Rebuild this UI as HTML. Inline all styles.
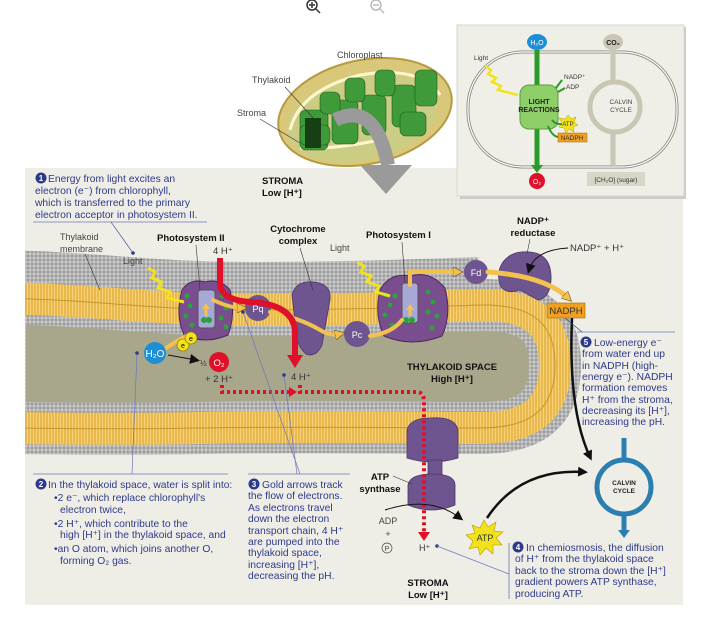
<!DOCTYPE html>
<html><head><meta charset="utf-8"><style>
html,body{margin:0;padding:0;background:#fff;}
svg{display:block;font-family:"Liberation Sans",sans-serif;}
.b{fill:#2d3a8c;font-size:10.3px;}
.k{fill:#222;font-size:9.5px;}
.kb{fill:#111;font-size:9.5px;font-weight:bold;}
.g{fill:#444;font-size:9px;}
</style></head><body>
<svg width="709" height="628" viewBox="0 0 709 628" xmlns="http://www.w3.org/2000/svg">
<defs>
<pattern id="dots" width="4" height="4" patternUnits="userSpaceOnUse">
<rect width="4" height="4" fill="#959595"/><circle cx="2" cy="2" r="1.7" fill="#c8c8c8"/></pattern>
<pattern id="tails" width="3" height="3" patternUnits="userSpaceOnUse">
<rect width="3" height="3" fill="#e8b84c"/><rect width="1" height="3" fill="#f6d27a"/></pattern>
<clipPath id="pc"><rect x="25" y="168" width="658" height="437"/></clipPath>
<marker id="ab" markerUnits="userSpaceOnUse" markerWidth="10" markerHeight="10" refX="6" refY="5" orient="auto"><path d="M0,0 L10,5 L0,10 Z" fill="#111"/></marker>
<marker id="ag" markerUnits="userSpaceOnUse" markerWidth="10" markerHeight="10" refX="5" refY="5" orient="auto"><path d="M0,0 L10,5 L0,10 Z" fill="#f3c24e" stroke="#6a5210" stroke-width=".6"/></marker>
</defs>
<!-- zoom icons -->
<g stroke="#333" fill="none" stroke-width="1.5"><circle cx="312" cy="5" r="5"/><line x1="316" y1="9" x2="320" y2="13"/><line x1="309" y1="5" x2="315" y2="5"/><line x1="312" y1="2" x2="312" y2="8"/></g>
<g stroke="#bbb" fill="none" stroke-width="1.5"><circle cx="376" cy="5" r="5"/><line x1="380" y1="9" x2="384" y2="13"/><line x1="373" y1="5" x2="379" y2="5"/></g>

<!-- panel -->
<rect x="25" y="168" width="658" height="437" fill="#efeee6"/>

<!-- chloroplast -->
<g>
<ellipse cx="365" cy="112" rx="88" ry="52" transform="rotate(-12 365 112)" fill="#d9c87a" stroke="#b69a40" stroke-width="2"/>
<ellipse cx="362" cy="118" rx="76" ry="42" transform="rotate(-12 362 118)" fill="#c6cf8a" opacity=".7"/>
<path d="M290,130 Q300,90 360,75 Q420,65 440,95" fill="none" stroke="#fff6cf" stroke-width="3"/>
<path d="M300,148 Q330,150 380,140" fill="none" stroke="#fff6cf" stroke-width="3"/>
<g fill="#3f9a3a" stroke="#1f5a1c" stroke-width=".6">
<rect x="300" y="110" width="28" height="40" rx="6"/><rect x="332" y="100" width="26" height="44" rx="6"/>
<rect x="362" y="95" width="24" height="40" rx="6"/><rect x="392" y="85" width="24" height="42" rx="6"/>
<rect x="415" y="70" width="22" height="36" rx="6"/><rect x="375" y="70" width="20" height="26" rx="6"/>
<rect x="345" y="78" width="20" height="24" rx="6"/><rect x="320" y="92" width="20" height="22" rx="6"/>
<rect x="300" y="125" width="30" height="20" rx="6"/><rect x="400" y="112" width="26" height="24" rx="6"/>
</g>
<rect x="305" y="118" width="16" height="30" fill="#173f15"/>
</g>
<path d="M335,120 Q375,100 388,165" fill="none" stroke="#9a9a9a" stroke-width="14"/>
<path d="M360,165 L412,165 L386,194 Z" fill="#9a9a9a"/>
<text x="337" y="58" class="g">Chloroplast</text>
<text x="252" y="83" class="g">Thylakoid</text>
<text x="237" y="116" class="g">Stroma</text>
<line x1="285" y1="87" x2="315" y2="120" stroke="#333" stroke-width=".6"/>
<line x1="260" y1="119" x2="300" y2="143" stroke="#333" stroke-width=".6"/>

<!-- inset -->
<rect x="460" y="27" width="226" height="172" fill="#ccc"/>
<rect x="457" y="25" width="227" height="171" fill="#f0efe7" stroke="#d8d6cc"/>
<rect x="468" y="52" width="209" height="115" rx="55" fill="none" stroke="#8a8a80" stroke-width="3"/>
<rect x="468" y="52" width="209" height="115" rx="55" fill="none" stroke="#fff" stroke-width="1.2"/>
<circle cx="615" cy="107" r="25" fill="none" stroke="#c9c6b3" stroke-width="5"/>
<line x1="613" y1="50" x2="613" y2="82" stroke="#c9c6b3" stroke-width="5"/>
<line x1="613" y1="132" x2="613" y2="165" stroke="#c9c6b3" stroke-width="5"/>
<line x1="537" y1="50" x2="537" y2="168" stroke="#2a9a2a" stroke-width="5"/>
<path d="M531,165 L543,165 L537,173 Z" fill="#2a9a2a"/>
<rect x="520" y="85" width="38" height="44" rx="9" fill="#8fcf6a" stroke="#5a9c40"/>
<text x="539" y="104" text-anchor="middle" font-size="7" font-weight="bold" fill="#222">LIGHT</text>
<text x="539" y="112" text-anchor="middle" font-size="7" font-weight="bold" fill="#222">REACTIONS</text>
<ellipse cx="537" cy="42" rx="10" ry="8" fill="#1c8fd6"/><text x="537" y="45" text-anchor="middle" font-size="7" fill="#fff">H₂O</text>
<ellipse cx="613" cy="42" rx="10" ry="8" fill="#c9c6b3"/><text x="613" y="45" text-anchor="middle" font-size="7" font-weight="bold" fill="#222">CO₂</text>
<circle cx="537" cy="181" r="8" fill="#e0102a"/><text x="537" y="184" text-anchor="middle" font-size="7" fill="#fff">O₂</text>
<rect x="587" y="172" width="58" height="14" fill="#d8d6c6"/><text x="616" y="182" text-anchor="middle" font-size="6.5" fill="#333">[CH₂O] (sugar)</text>
<text x="474" y="60" font-size="6.5" fill="#333">Light</text>
<polyline points="485,66 491,70 488,74 496,78 492,82 501,86 498,90 518,95" fill="none" stroke="#f2e21b" stroke-width="2.5"/>
<text x="564" y="79" font-size="6.5" fill="#333">NADP⁺</text>
<text x="566" y="89" font-size="6.5" fill="#333">ADP</text>
<text x="621" y="104" text-anchor="middle" font-size="6.5" fill="#444">CALVIN</text>
<text x="621" y="112" text-anchor="middle" font-size="6.5" fill="#444">CYCLE</text>
<polygon points="568,115 571,119 576,117 574,122 578,125 573,127 574,132 569,129 566,133 564,128 559,127 562,123 559,118 565,119" fill="#f2e21b" stroke="#b59a00" stroke-width=".5"/>
<text x="568" y="126" text-anchor="middle" font-size="6" fill="#333">ATP</text>
<rect x="558" y="133" width="29" height="9" fill="#f0a020" stroke="#a66a00" stroke-width=".5"/>
<text x="572" y="140" text-anchor="middle" font-size="6.5" fill="#333">NADPH</text>
<g stroke="#2a9a2a" stroke-width="2" fill="none"><path d="M562,80 L556,88"/><path d="M565,88 L558,92"/><path d="M552,120 Q556,125 562,124"/><path d="M548,126 Q552,136 558,137"/></g>

<!-- membrane -->
<g clip-path="url(#pc)">
<path d="M0,298 C100,300 150,310 250,310 C350,310 420,307 480,305" fill="none" stroke="url(#dots)" stroke-width="96"/>
<path d="M0,298 C100,300 150,310 250,310 C350,310 420,307 480,305 C540,304 555,330 555,365 C555,410 530,428 480,428 C400,428 300,426 200,428 C100,430 50,428 0,428 Z" fill="#a8a78c"/>
<path d="M0,298 C100,300 150,310 250,310 C350,310 420,307 480,305 C540,304 555,330 555,365 C555,410 530,428 480,428 C400,428 300,426 200,428 C100,430 50,428 0,428 Z" fill="none" stroke="url(#dots)" stroke-width="52"/>
<path d="M0,298 C100,300 150,310 250,310 C350,310 420,307 480,305 C540,304 555,330 555,365 C555,410 530,428 480,428 C400,428 300,426 200,428 C100,430 50,428 0,428 Z" fill="none" stroke="url(#tails)" stroke-width="32"/>
<path d="M0,298 C100,300 150,310 250,310 C350,310 420,307 480,305 C540,304 555,330 555,365 C555,410 530,428 480,428 C400,428 300,426 200,428 C100,430 50,428 0,428 Z" fill="none" stroke="#c9952e" stroke-width="1"/>
</g>

<!-- ATP synthase -->
<g fill="#6e5590" stroke="#4a3568" stroke-width=".8">
<path d="M407,430 Q410,418 430,418 Q455,416 458,430 L458,458 Q432,466 407,458 Z"/>
<rect x="428" y="460" width="14" height="18"/>
<path d="M408,485 Q410,474 432,474 Q455,474 455,485 L455,505 Q432,515 408,505 Z"/>
</g>
<!-- cytochrome -->
<path d="M292,295 Q296,280 314,282 Q332,284 330,300 L322,345 Q316,358 306,354 Q296,345 296,330 Z" fill="#6e5590" stroke="#4a3568" stroke-width=".8"/>
<!-- PS II -->
<g>
<path d="M182,290 Q190,278 205,282 Q220,278 230,290 Q236,315 228,335 Q205,345 184,335 Q175,315 182,290 Z" fill="#7a4d8f" stroke="#4a2a5e"/>
<rect x="198" y="290" width="17" height="38" rx="3" fill="#a8a8d8" stroke="#555"/>
<g fill="#2aa33a"><circle cx="187" cy="296" r="2.5"/><circle cx="190" cy="306" r="2.5"/><circle cx="186" cy="316" r="2.5"/><circle cx="192" cy="325" r="2.5"/><circle cx="222" cy="296" r="2.5"/><circle cx="226" cy="308" r="2.5"/><circle cx="221" cy="318" r="2.5"/><circle cx="226" cy="327" r="2.5"/><circle cx="204" cy="320" r="3"/><circle cx="209" cy="320" r="3"/></g>
<path d="M206,316 L206,308" stroke="#f3c24e" stroke-width="3"/><path d="M202,309 L210,309 L206,303 Z" fill="#f3c24e"/>
</g>
<!-- PS I -->
<g>
<path d="M380,290 Q390,272 410,276 Q430,270 445,288 Q452,315 442,336 Q412,348 384,336 Q374,315 380,290 Z" fill="#7a4d8f" stroke="#4a2a5e"/>
<rect x="402" y="283" width="16" height="40" rx="3" fill="#a8a8d8" stroke="#555"/>
<g fill="#2aa33a"><circle cx="386" cy="295" r="2.5"/><circle cx="390" cy="305" r="2.5"/><circle cx="385" cy="315" r="2.5"/><circle cx="392" cy="325" r="2.5"/><circle cx="395" cy="296" r="2.5"/><circle cx="428" cy="292" r="2.5"/><circle cx="433" cy="302" r="2.5"/><circle cx="428" cy="312" r="2.5"/><circle cx="437" cy="316" r="2.5"/><circle cx="432" cy="328" r="2.5"/><circle cx="406" cy="320" r="3"/><circle cx="412" cy="320" r="3"/></g>
<path d="M410,316 L410,309" stroke="#f3c24e" stroke-width="3"/><path d="M406,310 L414,310 L410,304 Z" fill="#f3c24e"/>
</g>
<!-- NADP reductase -->
<path d="M503,262 Q512,250 530,252 Q552,254 551,280 Q550,298 538,300 L520,290 Q505,295 500,285 Q496,272 503,262 Z" fill="#6e5590" stroke="#4a3568" stroke-width=".8"/>
<!-- carriers -->
<circle cx="258" cy="308" r="13" fill="#6e5590"/><text x="258" y="312" text-anchor="middle" font-size="9" fill="#fff">Pq</text>
<circle cx="357" cy="334" r="13" fill="#6e5590"/><text x="357" y="338" text-anchor="middle" font-size="9" fill="#fff">Pc</text>
<circle cx="476" cy="272" r="12" fill="#6e5590"/><text x="476" y="276" text-anchor="middle" font-size="9" fill="#fff">Fd</text>

<!-- gold electron arrows -->
<g fill="none" stroke-linecap="round">
<path d="M163,350 Q178,340 190,334" stroke="#f3c24e" stroke-width="4"/>
<path d="M213,300 Q230,308 242,308" stroke="#f3c24e" stroke-width="4" marker-end="url(#ag)"/>
<path d="M270,312 Q300,318 320,330 Q330,336 340,334" stroke="#f3c24e" stroke-width="4" marker-end="url(#ag)"/>
<path d="M370,336 Q392,333 402,320" stroke="#f3c24e" stroke-width="4"/>
<path d="M410,285 L410,272 L458,272" stroke="#f3c24e" stroke-width="4" marker-end="url(#ag)"/>
<path d="M488,272 Q545,276 568,298" stroke="#f3c24e" stroke-width="5" marker-end="url(#ag)"/>
</g>
<circle cx="183" cy="345" r="6" fill="#f2e21b" stroke="#7a6a00" stroke-width=".6"/><text x="183" y="348" text-anchor="middle" font-size="7">e</text>
<circle cx="191" cy="338" r="6" fill="#f2e21b" stroke="#7a6a00" stroke-width=".6"/><text x="191" y="341" text-anchor="middle" font-size="7">e</text>

<!-- light zigzags -->
<polyline points="148,268 155,272 152,278 162,282 158,288 170,292 167,298 184,302" fill="none" stroke="#f2e21b" stroke-width="3"/>
<polyline points="357,262 364,266 361,272 371,276 367,282 379,286 376,292 390,296" fill="none" stroke="#f2e21b" stroke-width="3"/>

<!-- red proton arrow -->
<path d="M220,258 L220,285 Q222,300 250,302 Q292,304 295,330 L295,356" fill="none" stroke="#e0102a" stroke-width="6"/>
<path d="M287,355 L303,355 L295,368 Z" fill="#e0102a"/>
<!-- red dotted -->
<path d="M222,385 L222,392 L290,392" fill="none" stroke="#e0102a" stroke-width="4" stroke-dasharray="3 3"/>
<path d="M289,387 L297,392 L289,397 Z" fill="#e0102a"/>
<path d="M300,385 L300,392 L418,392 Q424,393 424,402 L424,533" fill="none" stroke="#e0102a" stroke-width="4" stroke-dasharray="3 3"/>
<path d="M418,532 L430,532 L424,541 Z" fill="#e0102a"/>

<!-- H2O / O2 -->
<circle cx="155" cy="353" r="11" fill="#1c8fd6"/><text x="155" y="357" text-anchor="middle" font-size="10" fill="#fff">H₂O</text>
<path d="M168,355 L196,360" stroke="#111" stroke-width="1" marker-end="url(#ab)"/>
<circle cx="219" cy="362" r="10" fill="#e0102a"/><text x="219" y="366" text-anchor="middle" font-size="9.5" fill="#fff">O₂</text>
<text x="200" y="366" font-size="8" fill="#333">½</text>
<text x="205" y="382" font-size="9.5" fill="#333">+ 2 H⁺</text>
<text x="291" y="380" font-size="9.5" fill="#333">4 H⁺</text>
<text x="213" y="254" font-size="9.5" fill="#333">4 H⁺</text>

<!-- labels -->
<text x="262" y="184" class="kb">STROMA</text><text x="262" y="196" class="kb">Low [H⁺]</text>
<text x="60" y="240" class="g" font-size="9.5">Thylakoid</text><text x="60" y="252" class="g" font-size="9.5">membrane</text>
<line x1="85" y1="254" x2="100" y2="290" stroke="#333" stroke-width=".6"/>
<text x="123" y="264" class="g" font-size="9.5">Light</text>
<text x="157" y="241" class="kb">Photosystem II</text>
<line x1="196" y1="245" x2="200" y2="290" stroke="#333" stroke-width=".6"/>
<text x="298" y="232" class="kb" text-anchor="middle">Cytochrome</text><text x="298" y="244" class="kb" text-anchor="middle">complex</text>
<line x1="300" y1="248" x2="313" y2="290" stroke="#333" stroke-width=".6"/>
<text x="330" y="251" class="g" font-size="9.5">Light</text>
<text x="366" y="238" class="kb">Photosystem I</text>
<line x1="402" y1="242" x2="405" y2="283" stroke="#333" stroke-width=".6"/>
<text x="533" y="224" class="kb" text-anchor="middle">NADP⁺</text><text x="533" y="236" class="kb" text-anchor="middle">reductase</text>
<line x1="530" y1="239" x2="527" y2="254" stroke="#333" stroke-width=".6"/>
<text x="570" y="251" font-size="9.5" fill="#333">NADP⁺ + H⁺</text>
<path d="M568,248 Q535,250 529,270" fill="none" stroke="#111" stroke-width="1" marker-end="url(#ab)"/>
<rect x="547" y="303" width="38" height="15" fill="#f0a020" stroke="#a66a00" stroke-width=".6"/>
<text x="566" y="314" text-anchor="middle" font-size="9.5" fill="#333">NADPH</text>
<text x="452" y="370" class="kb" text-anchor="middle">THYLAKOID SPACE</text>
<text x="452" y="382" class="kb" text-anchor="middle">High [H⁺]</text>
<text x="380" y="480" class="kb" text-anchor="middle">ATP</text><text x="380" y="492" class="kb" text-anchor="middle">synthase</text>
<line x1="393" y1="476" x2="412" y2="484" stroke="#333" stroke-width=".6"/>
<text x="388" y="524" font-size="9" fill="#444" text-anchor="middle">ADP</text>
<text x="388" y="537" font-size="9" fill="#444" text-anchor="middle">+</text>
<circle cx="387" cy="548" r="5" fill="none" stroke="#444" stroke-width=".7"/><text x="387" y="551" font-size="7" fill="#444" text-anchor="middle">P</text>
<text x="419" y="551" font-size="9" fill="#333">H⁺</text>
<path d="M385,510 Q430,495 460,518" fill="none" stroke="#111" stroke-width="1" marker-end="url(#ab)"/>
<text x="428" y="586" class="kb" text-anchor="middle">STROMA</text><text x="428" y="598" class="kb" text-anchor="middle">Low [H⁺]</text>
<!-- ATP burst -->
<polygon points="484,520 488,527 496,522 494,531 503,532 496,538 502,545 493,545 493,554 486,548 480,555 478,547 469,549 473,541 466,535 475,533 472,525 480,528" fill="#f2e21b" stroke="#b59a00" stroke-width=".6"/>
<text x="485" y="541" text-anchor="middle" font-size="9" fill="#333">ATP</text>
<!-- black arrows -->
<path d="M487,518 Q520,468 584,472" fill="none" stroke="#111" stroke-width="2.5" marker-end="url(#ab)"/>
<path d="M572,318 Q568,410 590,457" fill="none" stroke="#111" stroke-width="2.5" marker-end="url(#ab)"/>
<!-- Calvin cycle -->
<line x1="624" y1="438" x2="624" y2="533" stroke="#2a7fb0" stroke-width="5"/>
<path d="M618,530 L630,530 L624,538 Z" fill="#2a7fb0"/>
<circle cx="624" cy="487" r="27" fill="#efeee6" stroke="#2a7fb0" stroke-width="5"/>
<text x="624" y="485" text-anchor="middle" font-size="6.5" font-weight="bold" fill="#222">CALVIN</text>
<text x="624" y="493" text-anchor="middle" font-size="6.5" font-weight="bold" fill="#222">CYCLE</text>

<!-- callout 1 -->
<circle cx="41" cy="178" r="5.5" fill="#2d3a8c"/><text x="41" y="181" text-anchor="middle" font-size="8" font-weight="bold" fill="#fff">1</text>
<text x="48" y="182" class="b">Energy from light excites an</text>
<text x="35" y="194" class="b">electron (e⁻) from chlorophyll,</text>
<text x="35" y="206" class="b">which is transferred to the primary</text>
<text x="35" y="218" class="b">electron acceptor in photosystem II.</text>
<line x1="33" y1="222" x2="207" y2="222" stroke="#6b77b8" stroke-width=".8"/>
<line x1="111" y1="222" x2="133" y2="253" stroke="#2d3a8c" stroke-width=".6"/><circle cx="133" cy="253" r="1.8" fill="#2d3a8c"/>

<!-- callout 5 -->
<line x1="577" y1="332" x2="675" y2="332" stroke="#6b77b8" stroke-width=".8"/>
<line x1="565" y1="318" x2="582" y2="332" stroke="#2d3a8c" stroke-width=".6"/>
<circle cx="586" cy="342" r="5.5" fill="#2d3a8c"/><text x="586" y="345" text-anchor="middle" font-size="8" font-weight="bold" fill="#fff">5</text>
<text x="594" y="346" class="b">Low-energy e⁻</text>
<text x="582" y="357" class="b">from water end up</text>
<text x="582" y="369" class="b">in NADPH (high-</text>
<text x="582" y="380" class="b">energy e⁻). NADPH</text>
<text x="582" y="391" class="b">formation removes</text>
<text x="582" y="403" class="b">H⁺ from the stroma,</text>
<text x="582" y="414" class="b">decreasing its [H⁺],</text>
<text x="582" y="425" class="b">increasing the pH.</text>

<!-- callout 2 -->
<line x1="137" y1="353" x2="132" y2="474" stroke="#6b77b8" stroke-width=".7"/><circle cx="137" cy="353" r="1.8" fill="#2d3a8c"/>
<line x1="33" y1="474" x2="228" y2="474" stroke="#6b77b8" stroke-width=".8"/>
<circle cx="41" cy="484" r="5.5" fill="#2d3a8c"/><text x="41" y="487" text-anchor="middle" font-size="8" font-weight="bold" fill="#fff">2</text>
<text x="48" y="488" class="b" font-size="9.8">In the thylakoid space, water is split into:</text>
<text x="54" y="501" class="b" font-size="9.8">•2 e⁻, which replace chlorophyll's</text>
<text x="60" y="513" class="b" font-size="9.8">electron twice,</text>
<text x="54" y="527" class="b" font-size="9.8">•2 H⁺, which contribute to the</text>
<text x="60" y="538" class="b" font-size="9.8">high [H⁺] in the thylakoid space, and</text>
<text x="54" y="552" class="b" font-size="9.8">•an O atom, which joins another O,</text>
<text x="60" y="564" class="b" font-size="9.8">forming O₂ gas.</text>

<!-- callout 3 -->
<line x1="243" y1="312" x2="300" y2="474" stroke="#6b77b8" stroke-width=".7"/><circle cx="243" cy="312" r="1.8" fill="#2d3a8c"/>
<line x1="284" y1="375" x2="297" y2="474" stroke="#6b77b8" stroke-width=".7"/><circle cx="284" cy="375" r="1.8" fill="#2d3a8c"/>
<line x1="248" y1="474" x2="350" y2="474" stroke="#6b77b8" stroke-width=".8"/>
<circle cx="254" cy="484" r="5.5" fill="#2d3a8c"/><text x="254" y="487" text-anchor="middle" font-size="8" font-weight="bold" fill="#fff">3</text>
<text x="262" y="488" class="b">Gold arrows track</text>
<text x="248" y="499" class="b">the flow of electrons.</text>
<text x="248" y="511" class="b">As electrons travel</text>
<text x="248" y="522" class="b">down the electron</text>
<text x="248" y="534" class="b">transport chain, 4 H⁺</text>
<text x="248" y="545" class="b">are pumped into the</text>
<text x="248" y="556" class="b">thylakoid space,</text>
<text x="248" y="568" class="b">increasing [H⁺],</text>
<text x="248" y="579" class="b">decreasing the pH.</text>

<!-- callout 4 -->
<circle cx="437" cy="546" r="1.8" fill="#2d3a8c"/><line x1="437" y1="546" x2="509" y2="574" stroke="#6b77b8" stroke-width=".7"/>
<line x1="509" y1="543" x2="509" y2="599" stroke="#6b77b8" stroke-width=".8"/>
<circle cx="518" cy="547" r="5.5" fill="#2d3a8c"/><text x="518" y="550" text-anchor="middle" font-size="8" font-weight="bold" fill="#fff">4</text>
<text x="526" y="551" class="b">In chemiosmosis, the diffusion</text>
<text x="515" y="562" class="b">of H⁺ from the thylakoid space</text>
<text x="515" y="574" class="b">back to the stroma down the [H⁺]</text>
<text x="515" y="585" class="b">gradient powers ATP synthase,</text>
<text x="515" y="597" class="b">producing ATP.</text>
</svg>
</body></html>
